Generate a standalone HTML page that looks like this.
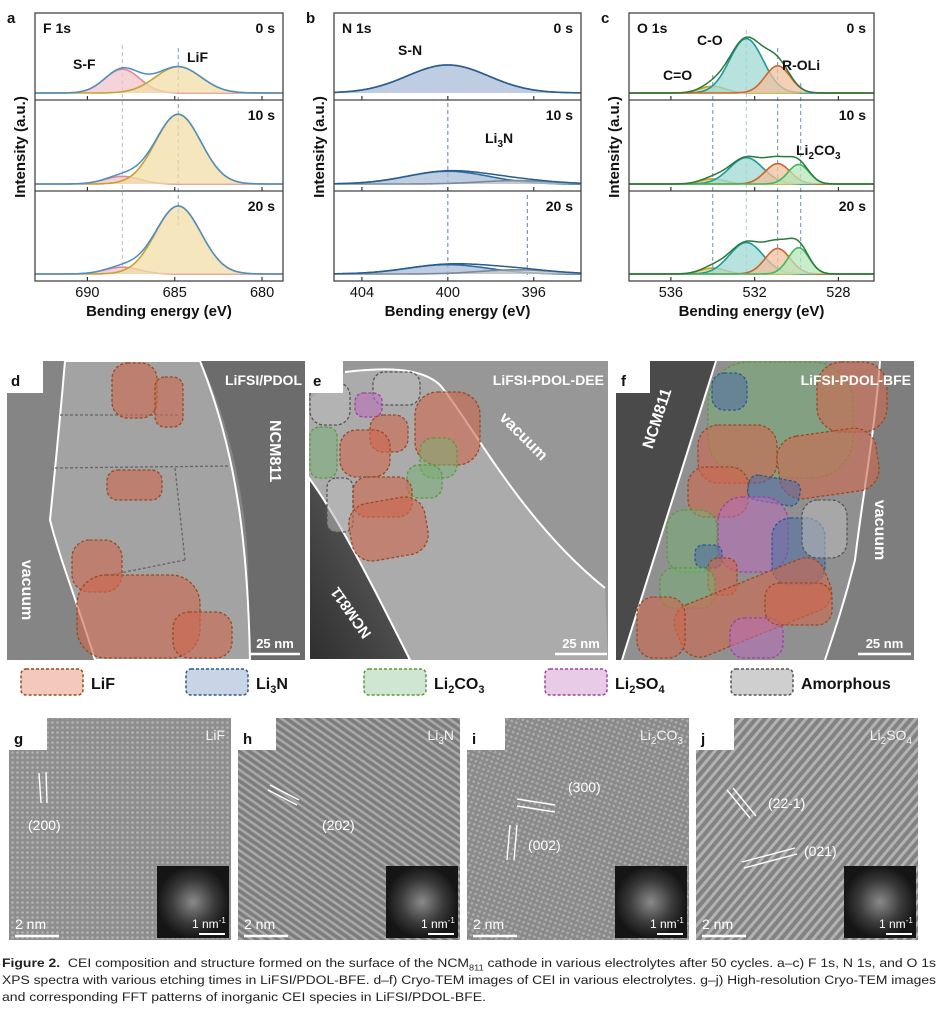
<!DOCTYPE html>
<html><head><meta charset="utf-8">
<style>
html,body{margin:0;padding:0;background:#fff;}
#wrap{position:relative;width:941px;height:1016px;overflow:hidden;font-family:"Liberation Sans",sans-serif;}
svg text{font-family:"Liberation Sans",sans-serif;}
.cap{position:absolute;left:2px;white-space:nowrap;font-size:12.2px;color:#222;transform-origin:0 0;font-family:"Liberation Sans",sans-serif;}
</style></head>
<body>
<div id="wrap">
<svg id="fig" width="941" height="950" viewBox="0 0 941 950" xmlns="http://www.w3.org/2000/svg">
<defs>
<pattern id="latG" width="5" height="5" patternUnits="userSpaceOnUse"><rect width="5" height="5" fill="#8e8e8e"/><circle cx="2.5" cy="2.5" r="1.3" fill="#b4b4b4"/></pattern>
<pattern id="latH" width="6" height="6" patternUnits="userSpaceOnUse" patternTransform="rotate(35)"><rect width="6" height="6" fill="#7c7c7c"/><rect width="6" height="2.6" fill="#a8a8a8"/></pattern>
<pattern id="latI" width="5" height="5" patternUnits="userSpaceOnUse" patternTransform="rotate(20)"><rect width="5" height="5" fill="#8a8a8a"/><circle cx="2.5" cy="2.5" r="1.4" fill="#acacac"/></pattern>
<pattern id="latJ" width="7" height="7" patternUnits="userSpaceOnUse" patternTransform="rotate(-50)"><rect width="7" height="7" fill="#828282"/><rect width="7" height="3" fill="#b2b2b2"/></pattern>
<radialGradient id="fft"><stop offset="0" stop-color="#8a8a8a"/><stop offset="0.6" stop-color="#3a3a3a"/><stop offset="1" stop-color="#151515"/></radialGradient>
<linearGradient id="ncmE" x1="0" y1="1" x2="1" y2="0"><stop offset="0" stop-color="#2e2e2e"/><stop offset="1" stop-color="#6a6a6a"/></linearGradient>
</defs>
<g id="xps"></g>
<g id="tem"></g>
<g id="hr"></g>
</svg>
<div class="cap" id="cap1" style="top:956px"><b>Figure 2.</b>&nbsp; CEI composition and structure formed on the surface of the NCM<sub style="font-size:8px">811</sub> cathode in various electrolytes after 50 cycles. a–c) F 1s, N 1s, and O 1s</div>
<div class="cap" id="cap2" style="top:973px">XPS spectra with various etching times in LiFSI/PDOL-BFE. d–f) Cryo-TEM images of CEI in various electrolytes. g–j) High-resolution Cryo-TEM images</div>
<div class="cap" id="cap3" style="top:990px">and corresponding FFT patterns of inorganic CEI species in LiFSI/PDOL-BFE.</div>
</div>
<script>
// ---------- XPS data ----------
const times = ['0 s','10 s','20 s'];
const aNames = ['S-F','LiF'];
const aCenter = [688.0, 684.8];
const aSigma = [1.0, 1.3];
const aHeights = [[28, 31],[9, 82],[8, 80]];
const aTicks = [690, 685, 680];

const bNames = ['S-N','Li3N'];
const bCenter = [400.0, 396.8];
const bSigma = [1.9, 1.7];
const bHeights = [[33, 0],[15, 4],[11, 5]];
const bTicks = [404, 400, 396];

const cNames = ['C=O','C-O','R-OLi','Li2CO3'];
const cCenter = [534.0, 532.4, 530.9, 529.9];
const cSigma = [0.6, 0.8, 0.6, 0.5];
const cHeights = [[8, 64, 32, 0],[6, 31, 24, 23],[7, 37, 30, 31]];
const cTicks = [536, 532, 528];

const NS='http://www.w3.org/2000/svg';
function el(tag, attrs, parent){const e=document.createElementNS(NS,tag);for(const k in attrs)e.setAttribute(k,attrs[k]);if(parent)parent.appendChild(e);return e;}
function gauss(x,c,h,s){return h*Math.exp(-0.5*((x-c)/s)**2);}

const xps=document.getElementById('xps');
function panel(cfg){
  const g=el('g',{},xps);
  
  
  const L=cfg.x0,R=cfg.x1,T=13,B=281;
  const subs=[[13,100],[100,191],[191,281]];
  const xs=v=>L+(cfg.eL-v)/(cfg.eL-cfg.eR)*(R-L);
  cfg.refs.forEach(r=>{
    const ln=el('line',{x1:xs(r[0]),x2:xs(r[0]),y1:r[1],y2:r[2],stroke:r[3],'stroke-width':1,'stroke-dasharray':'4,3'},g);
    
    
  });
  subs.forEach((sb,ti)=>{
    const base=sb[1]-7;
    const ys=v=>base-v*0.85;
    const hs=cfg.heights[ti];
    const N=160;
    cfg.centers.forEach((c,pi)=>{
      if(hs[pi]<=0)return;
      let d='M'+xs(cfg.eL)+','+base;let dl='';
      for(let i=0;i<=N;i++){const e=cfg.eL-(cfg.eL-cfg.eR)*i/N;const y=ys(gauss(e,c,hs[pi],cfg.sigma[pi]));d+=' L'+xs(e).toFixed(1)+','+y.toFixed(1);dl+=(i?' L':'M')+xs(e).toFixed(1)+','+y.toFixed(1);}
      d+=' L'+xs(cfg.eR)+','+base+' Z';
      const f=el('path',{d:d,fill:cfg.fills[pi],'fill-opacity':0.75,stroke:'none'},g);
      
      
      const l=el('path',{d:dl,fill:'none',stroke:cfg.lines[pi],'stroke-width':1.6},g);
      
      
    });
    let de='';
    for(let i=0;i<=N;i++){const e=cfg.eL-(cfg.eL-cfg.eR)*i/N;let s=0;cfg.centers.forEach((c,pi)=>{s+=gauss(e,c,hs[pi],cfg.sigma[pi]);});de+=(i?' L':'M')+xs(e).toFixed(1)+','+ys(s).toFixed(1);}
    const env=el('path',{d:de,fill:'none',stroke:cfg.env,'stroke-width':1.5},g);
    
    
    cfg.ticks.forEach(t=>{const tk=el('line',{x1:xs(t),x2:xs(t),y1:sb[1],y2:sb[1]-4,stroke:'#333','stroke-width':1.2},g);
      
      });
    const tl=el('text',{x:R-8,y:sb[0]+20,'text-anchor':'end','font-size':14,'font-weight':'bold',fill:'#111'},g);
    tl.textContent=times[ti];
    
    
    if(ti<2){const dv=el('line',{x1:L,x2:R,y1:sb[1],y2:sb[1],stroke:'#444','stroke-width':1.2},g);
      
      }
  });
  const fr=el('rect',{x:L,y:T,width:R-L,height:B-T,fill:'none',stroke:'#444','stroke-width':1.3},g);
  
  
  cfg.ticks.forEach(t=>{const tt=el('text',{x:xs(t),y:297,'text-anchor':'middle','font-size':14.5,fill:'#111'},g);tt.textContent=t;
    
    });
  const xt=el('text',{x:(L+R)/2,y:316,'text-anchor':'middle','font-size':15,'font-weight':'bold',fill:'#111'},g);
  xt.textContent='Bending energy (eV)';
  
  
  const yt=el('text',{x:0,y:0,'text-anchor':'middle','font-size':15,'font-weight':'bold',fill:'#111',transform:'translate('+(L-10)+',147) rotate(-90)'},g);
  yt.textContent='Intensity (a.u.)';
  
  
  const pl=el('text',{x:L-28,y:23,'font-size':15,'font-weight':'bold',fill:'#111'},g);
  pl.textContent=cfg.letter;
  
  
  const ct=el('text',{x:L+8,y:33,'font-size':14,'font-weight':'bold',fill:'#111'},g);
  ct.textContent=cfg.title;
  
  
  cfg.labels.forEach(lb=>{const t=el('text',{x:lb[1],y:lb[2],'font-size':14,'font-weight':'bold',fill:'#111'},g);t.innerHTML=lb[0];
    
    });
}
panel({letter:'a',title:'F 1s',x0:35,x1:283,eL:693,eR:678.8,names:aNames,centers:aCenter,sigma:aSigma,heights:aHeights,ticks:aTicks,
  fills:['#f0c6cb','#f2dea8'],lines:['#e08a92','#c9a032'],env:'#4a8fc6',
  refs:[[688,45,275,'#bbbbbb'],[684.8,48,225,'#7a9ad0']],
  labels:[['S-F',73,69],['LiF',187,62]]});
panel({letter:'b',title:'N 1s',x0:334,x1:581,eL:405.3,eR:393.8,names:bNames,centers:bCenter,sigma:bSigma,heights:bHeights,ticks:bTicks,
  fills:['#a9bcd9','#c8c8c8'],lines:['#2e6ca2','#7a8a9a'],env:'#2a5d8f',
  refs:[[400,103,275,'#5a80c8'],[396.3,195,275,'#5a80c8']],
  labels:[['S-N',398,55],['Li<tspan font-size="10" dy="4">3</tspan><tspan dy="-4">N</tspan>',485,143]]});
panel({letter:'c',title:'O 1s',x0:629,x1:874,eL:538,eR:526.3,names:cNames,centers:cCenter,sigma:cSigma,heights:cHeights,ticks:cTicks,
  fills:['#e9d68c','#9fd8d3','#f0c09e','#b7e6b8'],lines:['#c8a020','#1e9a9a','#d0632a','#3fb85e'],env:'#2a7a3a',
  refs:[[534,75,275,'#6a8ad0'],[532.4,30,275,'#aac0e0'],[530.9,48,275,'#6a8ad0'],[529.8,83,275,'#6a8ad0']],
  labels:[['C-O',697,45],['C=O',663,80],['R-OLi',782,70],['Li<tspan font-size="10" dy="4">2</tspan><tspan dy="-4">CO</tspan><tspan font-size="10" dy="4">3</tspan>',796,155]]});

// ---------- TEM panels ----------
const tem=document.getElementById('tem');
function add(tag,attrs,name,parent){const e=el(tag,attrs,parent||tem);return e;}
const C={LiF:['rgba(205,105,80,0.62)','#9a4a22'],Li3N:['rgba(80,110,165,0.55)','#2a5a90'],Li2CO3:['rgba(120,175,115,0.5)','#5a9a3a'],Li2SO4:['rgba(185,110,185,0.55)','#a040a0'],Am:['rgba(185,185,185,0.55)','#555']};
function blob(t,x,y,w,h,rot,name){const r=add('rect',{x:x,y:y,width:w,height:h,rx:Math.min(w,h)*0.35,fill:C[t][0],stroke:C[t][1],'stroke-width':1.3,'stroke-dasharray':'3,2',transform:rot?('rotate('+rot+' '+(x+w/2)+' '+(y+h/2)+')'):''},name);return r;}
// d
add('rect',{x:7,y:361,width:298,height:299,fill:'#858585'},'tem-d-background');
add('path',{d:'M200,361 C230,420 245,500 248,560 L250,660 L305,660 L305,361 Z',fill:'#6c6c6c'},'tem-d-ncm-region');
add('path',{d:'M65,361 C60,420 55,470 50,520 C60,560 80,610 95,660 L250,660 C248,560 240,460 200,361 Z',fill:'#a3a3a3',stroke:'#fff','stroke-width':2},'tem-d-cei-region');
add('path',{d:'M55,468 L230,466 M175,468 L185,560 M185,560 L110,575 M60,415 L180,415',fill:'none',stroke:'#666','stroke-width':1.3,'stroke-dasharray':'3,2'},'tem-d-amorphous-boundaries');
blob('LiF',112,363,45,55,0,'tem-d-lif');blob('LiF',155,377,28,50,0,'tem-d-lif');blob('LiF',107,470,55,30,0,'tem-d-lif');
blob('LiF',72,540,50,52,0,'tem-d-lif');blob('LiF',77,575,123,83,0,'tem-d-lif');blob('LiF',173,612,59,46,0,'tem-d-lif');
add('rect',{x:7,y:361,width:36,height:32,fill:'#fff'},'panel-letter-box');
// e
add('rect',{x:309,y:361,width:299,height:299,fill:'#979797'},'tem-e-background');
add('path',{d:'M345,372 C380,368 420,366 440,385 C470,420 520,520 605,588 L608,660 L410,660 C360,600 330,520 309,478 L309,400 Z',fill:'#ababab'},'tem-e-cei-region');
add('path',{d:'M345,372 C380,368 420,366 440,385 C470,420 520,520 605,588',fill:'none',stroke:'#fff','stroke-width':2},'tem-e-boundary-line');
add('path',{d:'M309,478 C340,520 380,600 410,660 L309,660 Z',fill:'url(#ncmE)',stroke:'#fff','stroke-width':2},'tem-e-ncm-region');
blob('Am',373,372,47,33,0,'tem-e-amorphous');blob('Am',327,478,26,54,0,'tem-e-amorphous');blob('Am',310,382,40,43,0,'tem-e-amorphous');
blob('Li2SO4',355,393,27,24,0,'tem-e-li2so4');
blob('LiF',415,392,65,73,0,'tem-e-lif');blob('LiF',370,415,38,37,0,'tem-e-lif');blob('LiF',340,430,50,47,0,'tem-e-lif');
blob('Li2CO3',310,427,27,51,0,'tem-e-li2co3');blob('Li2CO3',420,438,37,40,0,'tem-e-li2co3');blob('Li2CO3',407,465,35,33,0,'tem-e-li2co3');
blob('LiF',353,477,59,40,0,'tem-e-lif');blob('LiF',350,500,77,58,-10,'tem-e-lif');
add('rect',{x:309,y:361,width:34,height:32,fill:'#fff'},'panel-letter-box');
// f
add('rect',{x:616,y:361,width:298,height:299,fill:'#7e7e7e'},'tem-f-background');
add('path',{d:'M716,361 L880,361 C875,430 862,500 855,560 C845,600 835,630 825,660 L622,660 Z',fill:'#909090'},'tem-f-cei-region');
add('path',{d:'M616,361 L716,361 L622,660 L616,660 Z',fill:'#4a4a4a'},'tem-f-ncm-region');
add('path',{d:'M716,361 L622,660 M880,361 C875,430 862,500 855,560 C845,600 835,630 825,660',fill:'none',stroke:'#fff','stroke-width':2},'tem-f-boundary-lines');
blob('Li2CO3',708,362,145,116,0,'tem-f-li2co3');blob('Li3N',712,373,35,37,0,'tem-f-li3n');
blob('LiF',817,362,70,70,0,'tem-f-lif');blob('LiF',698,425,79,58,0,'tem-f-lif');blob('LiF',778,432,100,63,-8,'tem-f-lif');
blob('LiF',688,467,60,50,0,'tem-f-lif');blob('Li3N',748,478,52,25,10,'tem-f-li3n');blob('Li2SO4',718,497,70,75,0,'tem-f-li2so4');
blob('Li3N',772,518,53,67,0,'tem-f-li3n');blob('Am',802,500,45,58,0,'tem-f-amorphous');blob('Li2CO3',667,510,50,62,0,'tem-f-li2co3');
blob('Li3N',695,545,27,23,0,'tem-f-li3n');blob('LiF',708,558,29,37,0,'tem-f-lif');blob('Li2CO3',660,568,55,40,0,'tem-f-li2co3');
blob('LiF',673,580,160,55,-22,'tem-f-lif');blob('LiF',637,597,48,61,0,'tem-f-lif');blob('Li2SO4',730,618,53,40,0,'tem-f-li2so4');blob('LiF',765,583,67,42,0,'tem-f-lif');
add('rect',{x:616,y:361,width:34,height:32,fill:'#fff'},'panel-letter-box');
function tx(x,y,s,size,fill,anchor,rot,name,bold){const t=add('text',{x:x,y:y,'font-size':size,fill:fill,'text-anchor':anchor||'start','font-weight':bold===false?'normal':'bold',transform:rot?('rotate('+rot+' '+x+' '+y+')'):''},name);t.innerHTML=s;return t;}
tx(11,386,'d',15,'#111','start',0,'panel-letter');tx(313,386,'e',15,'#111','start',0,'panel-letter');tx(621,386,'f',15,'#111','start',0,'panel-letter');
tx(302,385,'LiFSI/PDOL',14,'#fff','end',0,'electrolyte-label');tx(604,385,'LiFSI-PDOL-DEE',14,'#fff','end',0,'electrolyte-label');tx(911,385,'LiFSI-PDOL-BFE',14,'#fff','end',0,'electrolyte-label');
tx(270,420,'NCM811',16,'#fff','start',90,'ncm811-label');tx(22,590,'vacuum',16,'#fff','middle',90,'vacuum-label');
tx(520,440,'vacuum',16,'#fff','middle',45,'vacuum-label');tx(355,610,'NCM811',15,'#fff','middle',-125,'ncm811-label');
tx(662,420,'NCM811',16,'#fff','middle',-72,'ncm811-label');tx(875,530,'vacuum',16,'#fff','middle',90,'vacuum-label');
[[250,300],[555,607],[858,911]].forEach(s=>{add('line',{x1:s[0],x2:s[1],y1:654,y2:654,stroke:'#fff','stroke-width':2.5},'scale-bar');tx((s[0]+s[1])/2,648,'25 nm',13,'#fff','middle',0,'scale-bar-label');});
// legend
const legNames=['LiF','Li<tspan font-size="11" dy="4">3</tspan><tspan dy="-4">N</tspan>','Li<tspan font-size="11" dy="4">2</tspan><tspan dy="-4">CO</tspan><tspan font-size="11" dy="4">3</tspan>','Li<tspan font-size="11" dy="4">2</tspan><tspan dy="-4">SO</tspan><tspan font-size="11" dy="4">4</tspan>','Amorphous'];
const legX=[21,186,364,545,731];
const legFill=[['#f2c9bb','#9a4a22'],['#c9d4e6','#2a5a90'],['#cfe6d2','#5a9a3a'],['#e8cbe6','#a040a0'],['#cfcfcf','#555']];
legNames.forEach((n,i)=>{add('rect',{x:legX[i],y:669,width:62,height:26,rx:5,fill:legFill[i][0],stroke:legFill[i][1],'stroke-width':1.5,'stroke-dasharray':'3,2'},'legend-swatch');
  tx(legX[i]+70,689,n,16,'#111','start',0,'legend-label');});
// ---------- HRTEM ----------
const hrX=[9,238,467,696];
const hrPat=['latG','latH','latI','latJ'];
const hrLet=['g','h','i','j'];
const hrTitle=['LiF','Li<tspan font-size="10" dy="4">3</tspan><tspan dy="-4">N</tspan>','Li<tspan font-size="10" dy="4">2</tspan><tspan dy="-4">CO</tspan><tspan font-size="10" dy="4">3</tspan>','Li<tspan font-size="10" dy="4">2</tspan><tspan dy="-4">SO</tspan><tspan font-size="10" dy="4">4</tspan>'];
hrX.forEach((x,i)=>{
  add('rect',{x:x,y:718,width:222,height:222,fill:'url(#'+hrPat[i]+')'},'hrtem-image-'+hrLet[i]);
  add('rect',{x:x+148,y:866,width:72,height:72,fill:'url(#fft)'},'fft-inset-'+hrLet[i]);
  add('rect',{x:x,y:718,width:38,height:32,fill:'#fff'},'panel-letter-box');
  tx(x+5,744,hrLet[i],15,'#111','start',0,'panel-letter');
  tx(x+216,740,hrTitle[i],14,'#f4f4f4','end',0,'phase-label',false);
  add('line',{x1:x+6,x2:x+50,y1:936,y2:936,stroke:'#fff','stroke-width':2.5},'scale-bar');
  tx(x+6,929,'2 nm',14,'#fff','start',0,'scale-bar-label',false);
  add('line',{x1:x+190,x2:x+216,y1:934,y2:934,stroke:'#fff','stroke-width':2},'fft-scale-bar');
  tx(x+183,928,'1 nm<tspan font-size="8" dy="-5">-1</tspan>',12,'#fff','start',0,'fft-scale-label',false);
});
tx(28,830,'(200)',14,'#fff','start',0,'plane-label',false);add('path',{d:'M39,773 L41,803 M46,772 L47,803',stroke:'#fff','stroke-width':1.4,fill:'none'},'lattice-marker');
tx(322,830,'(202)',14,'#fff','start',0,'plane-label',false);add('path',{d:'M270,785 L299,800 M268,790 L297,805',stroke:'#fff','stroke-width':1.4,fill:'none'},'lattice-marker');
tx(568,792,'(300)',14,'#fff','start',0,'plane-label',false);tx(528,850,'(002)',14,'#fff','start',0,'plane-label',false);
add('path',{d:'M517,799 L555,805 M517,806 L555,812 M510,825 L507,860 M517,825 L514,860',stroke:'#fff','stroke-width':1.4,fill:'none'},'lattice-marker');
tx(768,808,'(22-1)',14,'#fff','start',0,'plane-label',false);tx(804,856,'(021)',14,'#fff','start',0,'plane-label',false);
add('path',{d:'M727,790 L750,818 M733,788 L756,816 M742,862 L795,848 M744,868 L797,854',stroke:'#fff','stroke-width':1.4,fill:'none'},'lattice-marker');

[['cap1',934],['cap2',934],['cap3',484]].forEach(c=>{const d=document.getElementById(c[0]);const w=d.getBoundingClientRect().width;d.style.transform='scaleX('+(c[1]/w)+')';});
</script>
</body></html>
